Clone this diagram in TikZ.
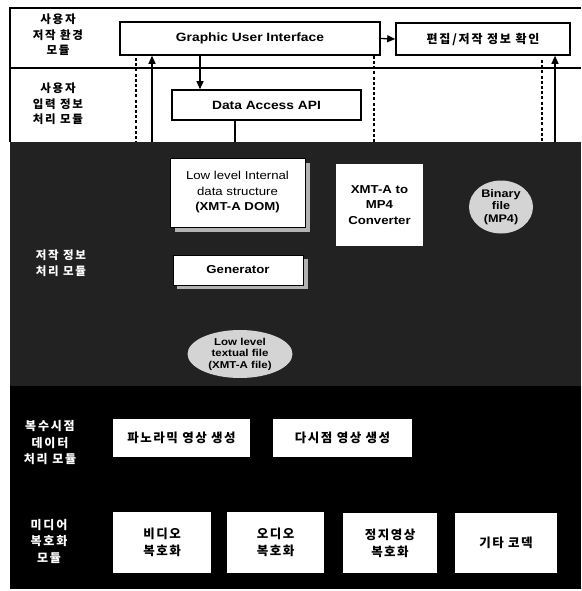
\documentclass[tikz,border=0pt]{standalone}
\usepackage{fontspec}
\setmainfont{Liberation Sans}[FakeStretch=1.15]
\newfontfamily\krw{Noto Sans CJK KR}[LetterSpace=15]
\newfontfamily\krb{Noto Sans CJK KR}[LetterSpace=12]
\usetikzlibrary{arrows.meta,shapes.geometric}
\definecolor{darkarea}{RGB}{34,34,34}
\definecolor{lightfill}{RGB}{212,212,212}
\begin{document}
\begin{tikzpicture}[x=1pt,y=-1pt,
  box/.style={draw=black,line width=1.6pt,fill=white,rectangle,inner sep=0pt,align=center,font=\fontsize{12}{14}\selectfont\bfseries},
  wbox/.style={fill=white,rectangle,inner sep=0pt,align=center},
  krbox/.style={wbox,font=\krb\fontsize{12.5}{17}\selectfont\bfseries},
  ell/.style={ellipse,fill=lightfill,inner sep=0pt,align=center,font=\fontsize{10}{11.5}\selectfont\bfseries},
  lab/.style={align=center,font=\krw\fontsize{11.5}{15.5}\selectfont\bfseries},
  labw/.style={align=center,text=white,font=\krw\fontsize{12}{16.5}\selectfont\bfseries},
  arr/.style={line width=1.3pt,-{Triangle[length=8pt,width=7pt]}},
  ln/.style={line width=1.3pt},
  dots/.style={line width=2pt,dash pattern=on 3pt off 2.2pt},
  shadow/.style={fill=gray!60,draw=none}]
\useasboundingbox (0,0) rectangle (581,591);
\fill[white] (0,0) rectangle (581,591);
% regions
\fill[darkarea] (10,142) rectangle (581,386);
\fill[black] (10,386) rectangle (581,589);
\draw[line width=1.5pt] (581,8) -- (10,8) -- (10,142);
\draw[line width=1.5pt] (10,68) -- (581,68);
% section labels
\node[lab] (l1) at (58,35) {사용자\\저작 환경\\모듈};
\node[lab] (l2) at (58,104) {사용자\\입력 정보\\처리 모듈};
\node[lab,text=white] (l3) at (61,263) {저작 정보\\처리 모듈};
\node[labw] (l4) at (50,443) {복수시점\\데이터\\처리 모듈};
\node[labw] (l5) at (49,541) {미디어\\복호화\\모듈};
% top boxes
\node[box,minimum width=260pt,minimum height=33pt] (gui) at (250,38.5) {Graphic User Interface};
\node[box,font=\krw\fontsize{12}{14}\selectfont\bfseries,minimum width=174pt,minimum height=32pt] (edit) at (483,39) {편집/저작 정보 확인};
\node[box,minimum width=189pt,minimum height=30pt] (dapi) at (266.5,105) {Data Access API};
% gray region
\fill[shadow] (305,163) rectangle (310,232);
\fill[shadow] (175,227) rectangle (310,232);
\node[wbox,draw=black,line width=0.8pt,minimum width=135pt,minimum height=69pt,font=\fontsize{11.5}{15.5}\selectfont] (low) at (237.5,192.5) {Low level Internal\\data structure\\\textbf{(XMT-A DOM)}};
\fill[shadow] (303,259) rectangle (308,289);
\fill[shadow] (177,285) rectangle (308,289);
\node[wbox,draw=black,line width=0.8pt,minimum width=130pt,minimum height=30pt,font=\fontsize{11.5}{13}\selectfont\bfseries] (gen) at (238,270) {Generator};
\node[ell,minimum width=105pt,minimum height=48pt] (txt) at (240,354) {Low level\\textual file\\(XMT-A file)};
\node[wbox,minimum width=87pt,minimum height=82pt,font=\fontsize{11.5}{15.5}\selectfont\bfseries] (conv) at (379.5,205) {XMT-A to\\MP4\\Converter};
\node[ell,minimum width=64pt,minimum height=53pt,font=\fontsize{11}{12.5}\selectfont\bfseries] (bin) at (501,207) {Binary\\file\\(MP4)};
% black region boxes
\node[krbox,minimum width=137pt,minimum height=38pt] (pano) at (181.5,438) {파노라믹 영상 생성};
\node[krbox,minimum width=139pt,minimum height=38pt] (multi) at (342.5,438) {다시점 영상 생성};
\node[krbox,minimum width=98pt,minimum height=61pt] (video) at (162,542.5) {비디오\\복호화};
\node[krbox,minimum width=97pt,minimum height=61pt] (audio) at (275.5,542.5) {오디오\\복호화};
\node[krbox,minimum width=94pt,minimum height=60pt] (still) at (390,543) {정지영상\\복호화};
\node[krbox,minimum width=102pt,minimum height=60pt] (etc) at (506,543) {기타 코덱};
% connectors
\coordinate (xa) at (200,0);
\coordinate (xb) at (235,0);
\coordinate (xc) at (152,0);
\coordinate (xd) at (374,0);
\coordinate (xe) at (555,0);
\coordinate (b1) at (235,142);
\coordinate (p1t) at (136,58);
\coordinate (p1b) at (136,142);
\coordinate (s1b) at (152,142);
\coordinate (p2b) at (374,142);
\coordinate (p3t) at (542,60);
\coordinate (p3b) at (542,142);
\coordinate (s2b) at (555,142);
\draw[arr] (gui.east) -- (edit.west);
\draw[arr] (gui.south -| xa) -- (dapi.north -| xa);
\draw[ln] (dapi.south -| xb) -- (b1);
\draw[dots] (p1t) -- (p1b);
\draw[arr] (s1b) -- (gui.south -| xc);
\draw[dots] (gui.south -| xd) -- (p2b);
\draw[dots] (p3t) -- (p3b);
\draw[arr] (s2b) -- (edit.south -| xe);
\end{tikzpicture}
\end{document}
